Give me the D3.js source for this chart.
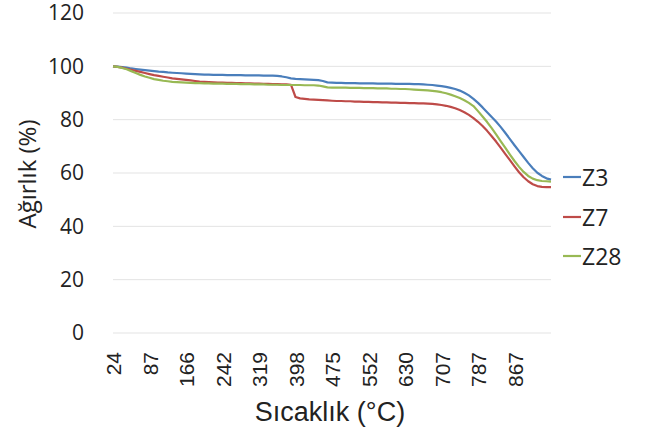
<!DOCTYPE html>
<html>
<head>
<meta charset="utf-8">
<script src="https://cdn.jsdelivr.net/npm/d3@7"></script>
<style>
  html, body { margin: 0; padding: 0; background: #fff; }
  svg { display: block; }
</style>
</head>
<body>
<svg id="chart" width="647" height="433"></svg>
<script>
// Temperature categories (°C)
const temperatures = [
  24,32,40,48,56,64,71,79,
  87,97,107,117,127,137,146,156,
  166,176,185,195,204,214,223,233,
  242,252,261,271,281,290,300,309,
  319,329,339,349,358,368,378,388,
  398,408,417,427,437,446,456,465,
  475,485,494,504,514,523,533,542,
  552,562,572,581,591,601,611,620,
  630,640,649,659,669,678,688,697,
  707,717,727,737,747,757,767,777,
  787,797,807,817,827,837,847,857,
  867,877,887,897,907,917,926,936,
  945
];
const tickLabels = [24, 87, 166, 242, 319, 398, 475, 552, 630, 707, 787, 867];
const yTicks = [0, 20, 40, 60, 80, 100, 120];

const z3 = [
  100,99.9,99.7,99.5,99.2,99.0,98.8,98.6,
  98.4,98.2,98.0,97.9,97.7,97.6,97.5,97.4,
  97.3,97.2,97.1,97.0,96.9,96.9,96.8,96.8,
  96.8,96.7,96.7,96.7,96.7,96.6,96.6,96.6,
  96.6,96.5,96.5,96.5,96.4,96.2,95.9,95.5,
  95.3,95.2,95.1,95.0,94.9,94.8,94.5,94.0,
  93.9,93.8,93.8,93.7,93.7,93.7,93.6,93.6,
  93.6,93.6,93.5,93.5,93.5,93.5,93.4,93.4,
  93.4,93.4,93.3,93.3,93.2,93.1,93.0,92.8,
  92.6,92.3,91.9,91.5,90.9,90.1,89.1,87.8,
  86.3,84.6,82.8,81.0,79.2,77.2,75.0,72.7,
  70.4,68.2,66.0,63.8,61.8,60.1,58.9,58.0,
  57.5
];
const z7 = [
  100,99.8,99.5,99.1,98.7,98.3,97.9,97.5,
  97.1,96.7,96.4,96.1,95.8,95.5,95.3,95.1,
  94.9,94.7,94.5,94.3,94.2,94.1,94.0,93.9,
  93.9,93.8,93.8,93.7,93.7,93.6,93.6,93.5,
  93.5,93.4,93.4,93.3,93.3,93.2,93.2,93.1,
  88.5,88.0,87.8,87.6,87.5,87.4,87.3,87.2,
  87.1,87.0,87.0,86.9,86.9,86.8,86.8,86.7,
  86.7,86.6,86.6,86.5,86.5,86.4,86.4,86.3,
  86.3,86.2,86.2,86.1,86.1,86.0,85.9,85.7,
  85.5,85.2,84.8,84.3,83.6,82.8,81.8,80.6,
  79.2,77.6,75.8,73.8,71.7,69.4,67.1,64.8,
  62.5,60.3,58.4,56.9,55.8,55.1,54.8,54.7,
  54.7
];
const z28 = [
  100,99.8,99.4,98.9,98.2,97.5,96.8,96.2,
  95.7,95.2,94.9,94.6,94.4,94.2,94.1,94.0,
  93.9,93.8,93.7,93.7,93.6,93.6,93.5,93.5,
  93.5,93.4,93.4,93.4,93.3,93.3,93.3,93.2,
  93.2,93.2,93.1,93.1,93.1,93.0,93.0,93.0,
  93.0,93.0,92.9,92.9,92.9,92.8,92.5,92.1,
  92.0,92.0,92.0,92.0,91.9,91.9,91.9,91.8,
  91.8,91.8,91.7,91.7,91.7,91.6,91.6,91.5,
  91.5,91.4,91.3,91.2,91.1,91.0,90.8,90.6,
  90.3,89.9,89.4,88.8,88.1,87.3,86.3,85.1,
  83.2,81.2,79.1,76.8,74.4,71.9,69.4,66.9,
  64.5,62.3,60.4,58.9,57.9,57.3,57.0,56.9,
  56.8
];

const seriesNames = ["Z3", "Z7", "Z28"];
const seriesValues = [z3, z7, z28];
const seriesColors = ["#4a7ebb", "#be4b48", "#98b954"];

const svg = d3.select("#chart");
const plotLeft = 113, plotRight = 551, plotTop = 13, plotBottom = 333;

const x = d3.scalePoint().domain(temperatures).range([plotLeft, plotRight]);
const y = d3.scaleLinear().domain([0, 120]).range([plotBottom, plotTop]);

// Gridlines
svg.append("g").selectAll("line").data(yTicks).join("line")
  .attr("x1", plotLeft).attr("x2", plotRight)
  .attr("y1", d => y(d)).attr("y2", d => y(d))
  .attr("stroke", "#e3e3e3").attr("stroke-width", 1);

// Y axis
const yAxis = svg.append("g").attr("transform", `translate(${plotLeft},0)`)
  .call(d3.axisLeft(y).tickValues(yTicks).tickSize(0).tickPadding(29));
yAxis.select(".domain").remove();
yAxis.selectAll("text")
  .attr("font-family", "'Open Sans', sans-serif")
  .attr("font-size", 21).attr("fill", "#222");

// X axis
const xAxis = svg.append("g").attr("transform", `translate(0,${plotBottom})`)
  .call(d3.axisBottom(x).tickValues(tickLabels).tickSize(0));
xAxis.select(".domain").remove();
xAxis.selectAll("text")
  .attr("font-family", "'Liberation Sans', Arial, sans-serif")
  .attr("font-size", 21).attr("fill", "#222")
  .attr("text-anchor", "end")
  .attr("dominant-baseline", "central")
  .attr("transform", "rotate(-90)")
  .attr("x", -19).attr("y", 0).attr("dy", null);

// Lines
const line = d3.line().x((d, i) => x(temperatures[i])).y(d => y(d));
seriesValues.forEach((vals, k) => {
  svg.append("path").datum(vals)
    .attr("fill", "none")
    .attr("stroke", seriesColors[k])
    .attr("stroke-width", 2.2)
    .attr("stroke-linejoin", "round")
    .attr("d", line);
});

// Legend
const legendY = [177, 217, 256];
seriesNames.forEach((name, k) => {
  svg.append("line")
    .attr("x1", 563).attr("x2", 581)
    .attr("y1", legendY[k]).attr("y2", legendY[k])
    .attr("stroke", seriesColors[k]).attr("stroke-width", 2.2);
  svg.append("text")
    .attr("x", 582).attr("y", legendY[k])
    .attr("dominant-baseline", "central")
    .attr("font-family", "'Open Sans', sans-serif")
    .attr("font-size", 23).attr("fill", "#222")
    .text(name);
});

// Axis titles
svg.append("text")
  .attr("x", 330).attr("y", 421)
  .attr("text-anchor", "middle")
  .attr("font-family", "'Liberation Sans', Arial, sans-serif")
  .attr("font-size", 27).attr("fill", "#222")
  .text("Sıcaklık (°C)");

svg.append("text")
  .attr("transform", "translate(36,174) rotate(-90)")
  .attr("text-anchor", "middle")
  .attr("font-family", "'Open Sans', sans-serif")
  .attr("font-size", 24).attr("fill", "#222")
  .text("Ağırlık (%)");
</script>
</body>
</html>
